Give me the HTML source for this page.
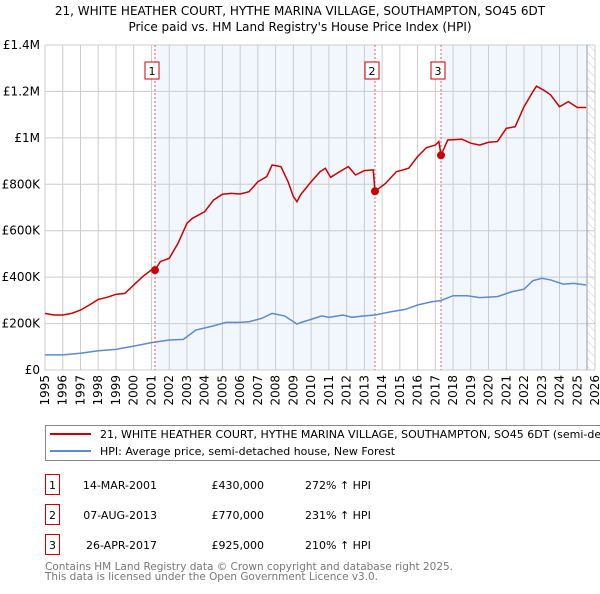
<!DOCTYPE html>
<html><head><meta charset="utf-8"><style>
body{margin:0;background:#fff;width:600px;height:590px;overflow:hidden;font-family:"DejaVu Sans","Liberation Sans",sans-serif;}
svg text{font-family:"DejaVu Sans","Liberation Sans",sans-serif;}
</style></head><body>
<svg id="chart" width="600" height="590" xmlns="http://www.w3.org/2000/svg">
<defs><pattern id="hatch" width="6" height="6" patternUnits="userSpaceOnUse" patternTransform="rotate(-45)"><line x1="0" y1="0" x2="0" y2="6" stroke="#ccc" stroke-width="1"/></pattern></defs>
<text x="300" y="15" text-anchor="middle" font-size="12">21, WHITE HEATHER COURT, HYTHE MARINA VILLAGE, SOUTHAMPTON, SO45 6DT</text>
<text x="300" y="31" text-anchor="middle" font-size="12">Price paid vs. HM Land Registry's House Price Index (HPI)</text>
<g id="plot"></g>
<rect x="45.5" y="425.5" width="570" height="35" fill="#fff" stroke="#888"/>
<line x1="50" y1="434" x2="91" y2="434" stroke="#cc0000" stroke-width="2"/>
<text x="100" y="438" font-size="11">21, WHITE HEATHER COURT, HYTHE MARINA VILLAGE, SOUTHAMPTON, SO45 6DT (semi-detached house)</text>
<line x1="50" y1="451" x2="91" y2="451" stroke="#5b8bd0" stroke-width="2"/>
<text x="100" y="455" font-size="11">HPI: Average price, semi-detached house, New Forest</text>
<g id="table" font-size="11"></g>
<text x="45" y="570" font-size="11" fill="#777" textLength="408" lengthAdjust="spacingAndGlyphs">Contains HM Land Registry data © Crown copyright and database right 2025.</text>
<text x="45" y="580" font-size="11" fill="#777" textLength="333" lengthAdjust="spacingAndGlyphs">This data is licensed under the Open Government Licence v3.0.</text>
</svg>
<script>
const redYears=[1995,1995.5,1996,1996.5,1997,1997.5,1998,1998.5,1999,1999.5,2000,2000.5,2001,2001.2,2001.5,2002,2002.5,2003,2003.3,2004,2004.5,2005,2005.5,2006,2006.5,2007,2007.5,2007.8,2008.3,2008.7,2009,2009.2,2009.4,2010,2010.5,2010.8,2011.1,2011.6,2012.1,2012.5,2013,2013.5,2013.6,2014.2,2014.8,2015.5,2016,2016.5,2017,2017.2,2017.32,2017.7,2018.5,2019,2019.5,2020,2020.5,2021,2021.5,2022,2022.5,2022.7,2023.1,2023.5,2024,2024.5,2025,2025.5];
const redValues=[244,237,237,244,258,280,304,313,326,330,366,402,431,430,467,481,546,632,653,682,732,757,761,758,768,811,833,883,876,811,747,725,754,811,854,869,830,854,876,840,859,862,770,804,854,869,919,958,969,984,925,991,994,977,969,981,984,1041,1048,1134,1199,1223,1206,1185,1134,1156,1131,1131];
const hpiYears=[1995,1996,1997,1998,1999,2000,2001,2002,2002.8,2003.5,2004.5,2005.2,2006,2006.5,2007.2,2007.8,2008.5,2009.2,2009.4,2010,2010.6,2011,2011.8,2012.3,2013,2013.6,2014.5,2015.3,2016,2016.8,2017.3,2018,2018.8,2019.5,2020.5,2021.3,2022,2022.5,2023,2023.5,2024.2,2024.8,2025.5];
const hpiValues=[65,65,72,83,89,103,118,129,132,172,190,205,205,208,222,244,233,198,204,218,233,227,237,227,233,237,251,261,280,294,299,320,320,312,316,337,348,385,395,388,370,373,366];
const saleLabels=["1","2","3"];
const saleYears=[2001.2,2013.6,2017.32];
const saleValues=[430,770,925];
const saleDates=["14-MAR-2001","07-AUG-2013","26-APR-2017"];
const salePrices=["£430,000","£770,000","£925,000"];
const saleHpi=["272% ↑ HPI","231% ↑ HPI","210% ↑ HPI"];
const yTicks=[0,200,400,600,800,1000,1200,1400];
const yTickLabels=["£0","£200K","£400K","£600K","£800K","£1M","£1.2M","£1.4M"];
const xTicks=[];for(let y=1995;y<=2026;y++)xTicks.push(y);

const NS="http://www.w3.org/2000/svg";
const L=45,R=595,T=45,B=370;
const xs=v=>L+(v-1995)*(R-L)/31;
const ys=v=>B-v*(B-T)/1400;
const plot=document.getElementById('plot');
function mk(tag,attrs,parent){const e=document.createElementNS(NS,tag);for(const k in attrs)e.setAttribute(k,attrs[k]);(parent||plot).appendChild(e);return e;}
let e;
e=mk('rect',{x:xs(saleYears[0]),y:T,width:xs(saleYears[1])-xs(saleYears[0]),height:B-T,fill:'#f2f6fd'});


e=mk('rect',{x:xs(saleYears[2]),y:T,width:xs(2025.55)-xs(saleYears[2]),height:B-T,fill:'#f2f6fd'});


e=mk('rect',{x:xs(2025.55),y:T,width:R-xs(2025.55),height:B-T,fill:'url(#hatch)'});


xTicks.forEach(t=>{
 e=mk('line',{x1:xs(t),x2:xs(t),y1:T,y2:B,stroke:'#cccccc','stroke-width':1});
 
 
 e=mk('text',{x:0,y:0,'font-size':12,'text-anchor':'end',transform:`translate(${xs(t)+4},${B+5}) rotate(-90)`});
 e.textContent=t;
 
 
});
yTicks.forEach((t,i)=>{
 e=mk('line',{x1:L,x2:R,y1:ys(t),y2:ys(t),stroke:'#cccccc','stroke-width':1});
 
 
 e=mk('text',{x:40,y:ys(t)+4,'font-size':12,'text-anchor':'end'});
 e.textContent=yTickLabels[i];
 
 
});
e=mk('line',{x1:xs(2025.55),x2:xs(2025.55),y1:T,y2:B,stroke:'#999','stroke-width':1});


saleYears.forEach((s,i)=>{
 e=mk('line',{x1:xs(s),x2:xs(s),y1:T,y2:B,stroke:'#e06060','stroke-width':1,'stroke-dasharray':'2,2'});
 
 
 e=mk('rect',{x:xs(s)-10,y:62,width:14,height:17,fill:'#fff',stroke:'#cc0000'});
 
 
 e=mk('text',{x:xs(s)-3,y:75,'font-size':11,'text-anchor':'middle'});
 e.textContent=saleLabels[i];
 
 
});
e=mk('polyline',{points:hpiYears.map((y,i)=>xs(y)+','+ys(hpiValues[i])).join(' '),fill:'none',stroke:'#5b8bd0','stroke-width':1.5});


e=mk('polyline',{points:redYears.map((y,i)=>xs(y)+','+ys(redValues[i])).join(' '),fill:'none',stroke:'#cc0000','stroke-width':1.5});


saleYears.forEach((s,i)=>{
 e=mk('circle',{cx:xs(s),cy:ys(saleValues[i]),r:4,fill:'#cc0000'});
 
 
});
const tbl=document.getElementById('table');
saleLabels.forEach((l,i)=>{
 const y=485+i*30;
 e=mk('rect',{x:45.5,y:y-10.5,width:14,height:20,fill:'#fff',stroke:'#cc0000'},tbl);
 
 
 const cells=[[52.5,l,'middle'],[157,saleDates[i],'end'],[264,salePrices[i],'end'],[305,saleHpi[i],'start']];
 cells.forEach(c=>{
  e=mk('text',{x:c[0],y:y+4,'text-anchor':c[2]},tbl);
  e.textContent=c[1];
  
  
 });
});
</script>
</body></html>
